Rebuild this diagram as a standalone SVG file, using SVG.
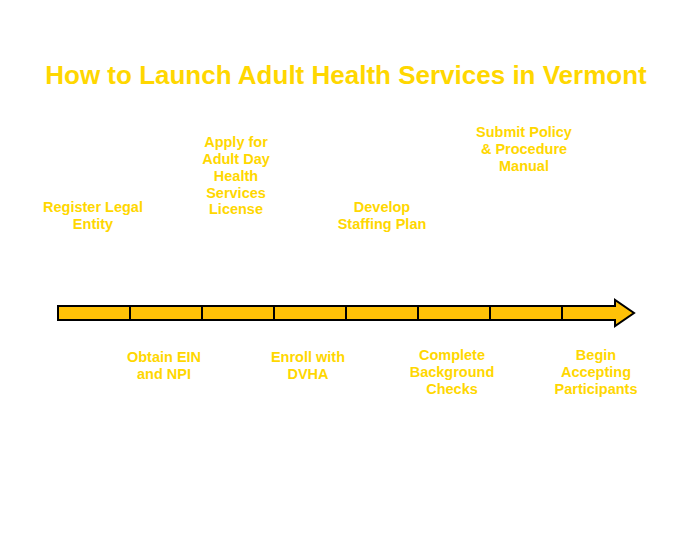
<svg xmlns="http://www.w3.org/2000/svg" width="691" height="554" viewBox="0 0 691 554">
<style>
text{font-family:"Comic Sans MS","Liberation Sans",sans-serif;font-weight:bold;fill:#FFD700;text-anchor:middle}
.t{font-size:26px}
.l{font-size:14.5px}
.seg{fill:#FFC107;stroke:#000;stroke-width:2}
</style>
<rect width="691" height="554" fill="#fff"/>
<text class="t" x="346" y="84">How to Launch Adult Health Services in Vermont</text>
<g id="connectors">
<path class="seg" d="M58,306 H615 V300 L634,313 L615,326 V320 H58 Z"/>
<path d="M130,306V320M202,306V320M274,306V320M346,306V320M418,306V320M490,306V320M562,306V320" stroke="#000" stroke-width="2"/>
</g>
<g id="n1"><text class="l" x="93" y="212">Register Legal</text><text class="l" x="93" y="229">Entity</text></g>
<g id="n2"><text class="l" x="164" y="362">Obtain EIN</text><text class="l" x="164" y="379">and NPI</text></g>
<g id="n3"><text class="l" x="236" y="147">Apply for</text><text class="l" x="236" y="164">Adult Day</text><text class="l" x="236" y="181">Health</text><text class="l" x="236" y="198">Services</text><text class="l" x="236" y="214">License</text></g>
<g id="n4"><text class="l" x="308" y="362">Enroll with</text><text class="l" x="308" y="379">DVHA</text></g>
<g id="n5"><text class="l" x="382" y="212">Develop</text><text class="l" x="382" y="229">Staffing Plan</text></g>
<g id="n6"><text class="l" x="452" y="360">Complete</text><text class="l" x="452" y="377">Background</text><text class="l" x="452" y="394">Checks</text></g>
<g id="n7"><text class="l" x="524" y="137">Submit Policy</text><text class="l" x="524" y="154">&amp; Procedure</text><text class="l" x="524" y="171">Manual</text></g>
<g id="n8"><text class="l" x="596" y="360">Begin</text><text class="l" x="596" y="377">Accepting</text><text class="l" x="596" y="394">Participants</text></g>
</svg>
